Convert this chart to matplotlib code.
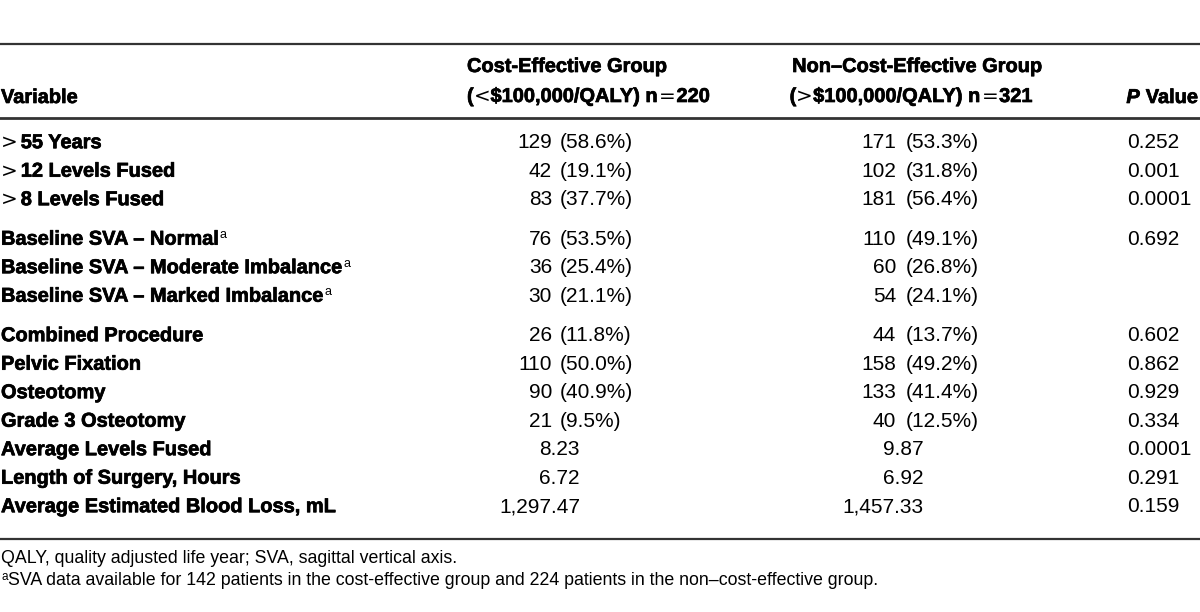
import matplotlib
matplotlib.use("Agg")
import matplotlib.pyplot as plt
import matplotlib.patheffects as pe

# tabeldata
variabler = [">55 Years", ">12 Levels Fused", ">8 Levels Fused",
             "Baseline SVA – Normal^a", "Baseline SVA – Moderate Imbalance^a",
             "Baseline SVA – Marked Imbalance^a",
             "Combined Procedure", "Pelvic Fixation", "Osteotomy", "Grade 3 Osteotomy",
             "Average Levels Fused", "Length of Surgery, Hours",
             "Average Estimated Blood Loss, mL"]
gruppe = [0, 0, 0, 1, 1, 1, 2, 2, 2, 2, 2, 2, 2]

ce_antal = ["129", "42", "83", "76", "36", "30", "26", "110", "90", "21", None, None, None]
ce_pct = ["(58.6%)", "(19.1%)", "(37.7%)", "(53.5%)", "(25.4%)", "(21.1%)",
          "(11.8%)", "(50.0%)", "(40.9%)", "(9.5%)", None, None, None]
nce_antal = ["171", "102", "181", "110", "60", "54", "44", "158", "133", "40", None, None, None]
nce_pct = ["(53.3%)", "(31.8%)", "(56.4%)", "(49.1%)", "(26.8%)", "(24.1%)",
           "(13.7%)", "(49.2%)", "(41.4%)", "(12.5%)", None, None, None]
ce_gns = [None] * 10 + ["8.23", "6.72", "1,297.47"]
nce_gns = [None] * 10 + ["9.87", "6.92", "1,457.33"]
p_vaerdier = ["0.252", "0.001", "0.0001", "0.692", "", "", "0.602", "0.862",
              "0.929", "0.334", "0.0001", "0.291", "0.159"]

kolonne1 = ["Cost-Effective Group", "<", "$100,000/QALY) n", "=", "220"]
kolonne2 = ["Non–Cost-Effective Group", ">", "$100,000/QALY) n", "=", "321"]

fodnote1 = "QALY, quality adjusted life year; SVA, sagittal vertical axis."
fodnote2 = "SVA data available for 142 patients in the cost-effective group and 224 patients in the non–cost-effective group."

FONT = "Liberation Sans"
SYMBOL = "DejaVu Sans"
HFS = 14.4   # fed tekst
DFS = 15.0   # tal
NFS = 12.8   # fodnoter

fig = plt.figure(figsize=(12, 6.12), dpi=100)
ax = fig.add_axes([0, 0, 1, 1])
ax.set_xlim(0, 1200)
ax.set_ylim(612, 0)
ax.axis("off")
renderer = fig.canvas.get_renderer()

fed = [pe.withStroke(linewidth=0.5, foreground="black")]
stile = {
    "b": dict(family=FONT, fontweight="bold", fontsize=HFS, path_effects=fed),
    "bi": dict(family=FONT, fontweight="bold", fontstyle="italic", fontsize=HFS, path_effects=fed),
    "sym": dict(family=SYMBOL, fontsize=HFS),
    "sup": dict(family=FONT, fontsize=9),
    "r": dict(family=FONT, fontsize=DFS),
    "n": dict(family=FONT, fontsize=NFS),
    "nsup": dict(family=FONT, fontsize=8.5),
}
loeft = {"sup": -6.5, "nsup": -5.5}


def kaede(x, y, dele, ha="left"):
    # dele: liste af (tekst, stil, mellemrum foran)
    objs = []
    cx = 0
    for tekst, stil, gap in dele:
        cx += gap
        t = ax.text(0, y + loeft.get(stil, 0), tekst, va="baseline", **stile[stil])
        w = t.get_window_extent(renderer).width
        objs.append((t, cx))
        cx += w
    start = {"left": x, "right": x - cx, "center": x - cx / 2}[ha]
    for t, ox in objs:
        t.set_x(start + ox)


def label_dele(navn):
    dele = []
    if navn.startswith(">"):
        dele.append((">", "sym", 0))
        dele.append((navn[1:], "b", 3))
    elif navn.endswith("^a"):
        dele.append((navn[:-2], "b", 0))
        dele.append(("a", "sup", 1))
    else:
        dele.append((navn, "b", 0))
    return dele


# linjer
ax.axhline(44, color="#333333", lw=1.6)
ax.axhline(118, color="#333333", lw=2.0)
ax.axhline(539, color="#333333", lw=1.6)

# overskrifter
ax.text(1, 103, "Variable", va="baseline", **stile["b"])
kaede(467, 72, [(kolonne1[0], "b", 0)])
kaede(467, 102, [("(", "b", 0), (kolonne1[1], "sym", 0), (kolonne1[2], "b", 0),
                 (kolonne1[3], "sym", 1), (kolonne1[4], "b", 1)])
kaede(917, 72, [(kolonne2[0], "b", 0)], ha="center")
kaede(911, 102, [("(", "b", 0), (kolonne2[1], "sym", 0), (kolonne2[2], "b", 0),
                 (kolonne2[3], "sym", 1), (kolonne2[4], "b", 1)], ha="center")
kaede(1198, 103, [("P", "bi", 0), ("Value", "b", 6)], ha="right")

# rækker
y = 141
for i, navn in enumerate(variabler):
    if i > 0:
        y += 28.5 + (11 if gruppe[i] != gruppe[i - 1] else 0)
    b = y + 7.2
    kaede(1, b, label_dele(navn))
    if ce_antal[i]:
        ax.text(552, b, ce_antal[i], va="baseline", ha="right", **stile["r"])
        ax.text(560, b, ce_pct[i], va="baseline", **stile["r"])
        ax.text(896, b, nce_antal[i], va="baseline", ha="right", **stile["r"])
        ax.text(906, b, nce_pct[i], va="baseline", **stile["r"])
    else:
        ax.text(580, b, ce_gns[i], va="baseline", ha="right", **stile["r"])
        ax.text(924, b, nce_gns[i], va="baseline", ha="right", **stile["r"])
    if p_vaerdier[i]:
        ax.text(1127, b, p_vaerdier[i], va="baseline", **stile["r"])

# fodnoter
ax.text(1, 563, fodnote1, va="baseline", **stile["n"])
kaede(1, 585, [("a", "nsup", 0), (fodnote2, "n", 0.5)])

fig.savefig("out.png", dpi=100)
